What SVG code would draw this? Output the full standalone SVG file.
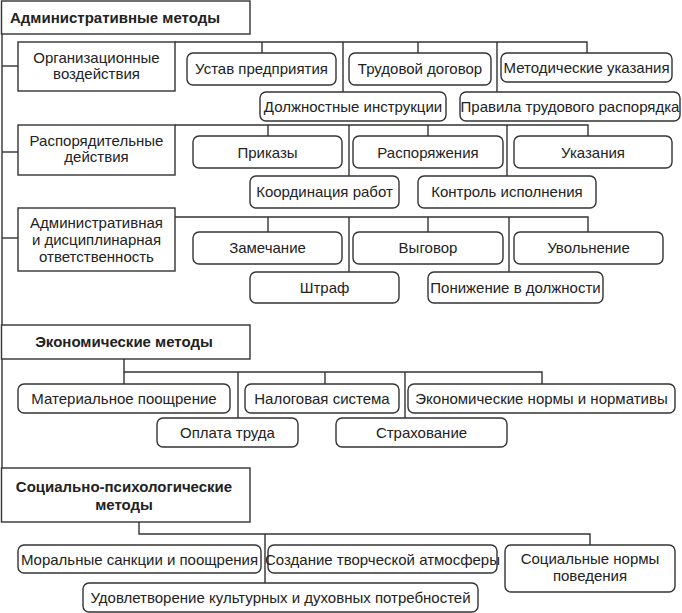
<svg xmlns="http://www.w3.org/2000/svg" width="682" height="613" viewBox="0 0 682 613">
<style>
.m{fill:#fff;stroke:#333;stroke-width:1.4}
.r{fill:#fff;stroke:#333;stroke-width:1.4}
.c line,.c polyline{stroke:#333;stroke-width:1.4;fill:none}
text{font-family:"Liberation Sans",Arial,sans-serif;font-size:15px;fill:#222;text-anchor:middle}
.b{font-weight:bold}
.l{text-anchor:start}
</style>
<rect width="682" height="613" fill="#fff"/>
<g class="c" id="connectors">
<line x1="2" y1="34" x2="2" y2="468"/>
<line x1="2" y1="66" x2="18" y2="66"/>
<line x1="2" y1="152" x2="18" y2="152"/>
<line x1="2" y1="238" x2="18" y2="238"/>
<polyline points="175,42 587,42 587,53"/>
<line x1="262" y1="42" x2="262" y2="53"/>
<line x1="343" y1="42" x2="343" y2="92"/>
<line x1="418" y1="42" x2="418" y2="53"/>
<line x1="497" y1="42" x2="497" y2="92"/>
<polyline points="175,125 588,125 588,136"/>
<line x1="268" y1="125" x2="268" y2="136"/>
<line x1="349" y1="125" x2="349" y2="176"/>
<line x1="428" y1="125" x2="428" y2="136"/>
<line x1="507" y1="125" x2="507" y2="176"/>
<polyline points="175,217 588,217 588,232"/>
<line x1="268" y1="217" x2="268" y2="232"/>
<line x1="349" y1="217" x2="349" y2="272"/>
<line x1="428" y1="217" x2="428" y2="232"/>
<line x1="509" y1="217" x2="509" y2="272"/>
<polyline points="124,359 124,372 542,372 542,384"/>
<line x1="124" y1="372" x2="124" y2="384"/>
<line x1="238" y1="372" x2="238" y2="418"/>
<line x1="325" y1="372" x2="325" y2="384"/>
<line x1="405" y1="372" x2="405" y2="418"/>
<polyline points="139,522 139,534 590,534 590,545"/>
<line x1="265" y1="534" x2="265" y2="583"/>
</g>
<g id="admin"><rect class="m" x="1.5" y="1" width="248.5" height="33"/><text class="b l" x="10" y="23">Административные методы</text></g>
<g id="org"><rect class="m" x="18" y="42" width="157" height="49"/><text x="96.5" y="63">Организационные</text><text x="96.5" y="79">воздействия</text></g>
<g id="ustav"><rect class="r" x="187" y="53" width="149" height="32" rx="6"/><text x="261.5" y="74">Устав предприятия</text></g>
<g id="trud"><rect class="r" x="349" y="53" width="142" height="32" rx="6"/><text x="420" y="74">Трудовой договор</text></g>
<g id="metod"><rect class="r" x="501" y="53" width="171" height="29" rx="6"/><text x="586.5" y="73">Методические указания</text></g>
<g id="dolzh"><rect class="r" x="260" y="92" width="186" height="29" rx="6"/><text x="353" y="112">Должностные инструкции</text></g>
<g id="pravila"><rect class="r" x="460" y="92" width="220" height="29" rx="6"/><text x="570" y="112">Правила трудового распорядка</text></g>
<g id="rasp"><rect class="m" x="18" y="125" width="157" height="50"/><text x="96.5" y="146">Распорядительные</text><text x="96.5" y="162">действия</text></g>
<g id="prikazy"><rect class="r" x="193" y="136" width="149" height="32" rx="6"/><text x="267.5" y="158">Приказы</text></g>
<g id="rasporyazh"><rect class="r" x="353" y="136" width="150" height="32" rx="6"/><text x="428" y="158">Распоряжения</text></g>
<g id="ukaz"><rect class="r" x="514" y="136" width="158" height="32" rx="6"/><text x="593" y="158">Указания</text></g>
<g id="koord"><rect class="r" x="250" y="176" width="149" height="32" rx="6"/><text x="324.5" y="197">Координация работ</text></g>
<g id="kontrol"><rect class="r" x="418" y="176" width="178" height="32" rx="6"/><text x="507" y="197">Контроль исполнения</text></g>
<g id="otv"><rect class="m" x="18" y="208" width="157" height="63"/><text x="96.5" y="228">Административная</text><text x="96.5" y="245">и дисциплинарная</text><text x="96.5" y="262">ответственность</text></g>
<g id="zamech"><rect class="r" x="193" y="232" width="149" height="32" rx="6"/><text x="267.5" y="253">Замечание</text></g>
<g id="vygovor"><rect class="r" x="353" y="232" width="150" height="32" rx="6"/><text x="428" y="253">Выговор</text></g>
<g id="uvol"><rect class="r" x="514" y="232" width="149" height="32" rx="6"/><text x="588.5" y="253">Увольнение</text></g>
<g id="shtraf"><rect class="r" x="250" y="272" width="149" height="31" rx="6"/><text x="324.5" y="293">Штраф</text></g>
<g id="ponizh"><rect class="r" x="428" y="272" width="175" height="31" rx="6"/><text x="515.5" y="293">Понижение в должности</text></g>
<g id="econ"><rect class="m" x="1.5" y="325" width="248.5" height="34"/><text class="b" x="124" y="347">Экономические методы</text></g>
<g id="mater"><rect class="r" x="18" y="384" width="212" height="29" rx="6"/><text x="124" y="404">Материальное поощрение</text></g>
<g id="nalog"><rect class="r" x="245" y="384" width="154" height="29" rx="6"/><text x="322" y="404">Налоговая система</text></g>
<g id="normy"><rect class="r" x="408" y="384" width="267" height="29" rx="6"/><text x="541.5" y="404">Экономические нормы и нормативы</text></g>
<g id="oplata"><rect class="r" x="157" y="418" width="141" height="29" rx="6"/><text x="227.5" y="438">Оплата труда</text></g>
<g id="strah"><rect class="r" x="336" y="418" width="171" height="29" rx="6"/><text x="421.5" y="438">Страхование</text></g>
<g id="social"><rect class="m" x="1.5" y="468" width="248.5" height="54"/><text class="b" x="124" y="492">Социально-психологические</text><text class="b" x="124" y="510">методы</text></g>
<g id="moral"><rect class="r" x="18" y="545" width="243" height="28" rx="6"/><text x="139.5" y="565">Моральные санкции и поощрения</text></g>
<g id="tvorch"><rect class="r" x="268" y="545" width="229" height="28" rx="6"/><text x="382.5" y="565">Создание творческой атмосферы</text></g>
<g id="socnorm"><rect class="r" x="505" y="545" width="170" height="47" rx="6"/><text x="590" y="564">Социальные нормы</text><text x="590" y="581">поведения</text></g>
<g id="udovl"><rect class="r" x="83" y="583" width="395" height="29" rx="6"/><text x="280.5" y="603">Удовлетворение культурных и духовных потребностей</text></g>
</svg>
